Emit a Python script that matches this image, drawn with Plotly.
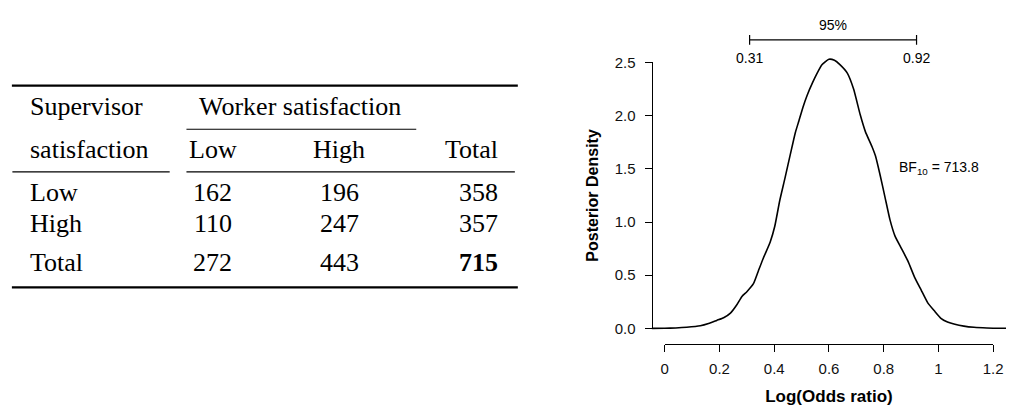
import plotly.graph_objects as go

# ---------------- data ----------------
row_labels = ["Low", "High"]
col_labels = ["Low", "High"]
counts = [[162, 196], [110, 247]]
row_totals = [358, 357]
col_totals = [272, 443]
grand_total = 715

logor_x = [-0.048, 0.0, 0.04, 0.08, 0.13, 0.16, 0.19, 0.215, 0.24, 0.264, 0.282, 0.30,
           0.324, 0.342, 0.36, 0.385, 0.402, 0.42, 0.439, 0.46, 0.477, 0.49, 0.505, 0.52,
           0.54, 0.555, 0.575, 0.60, 0.62, 0.64, 0.667, 0.69, 0.714, 0.733, 0.757, 0.77,
           0.787, 0.805, 0.823, 0.841, 0.865, 0.889, 0.913, 0.937, 0.961, 0.985, 1.009,
           1.033, 1.06, 1.093, 1.13, 1.177, 1.25]
density_y = [0.0, 0.001, 0.004, 0.01, 0.024, 0.045, 0.075, 0.10, 0.144, 0.225, 0.30, 0.345,
             0.42, 0.54, 0.66, 0.81, 0.96, 1.20, 1.41, 1.65, 1.84, 1.95, 2.08, 2.19,
             2.31, 2.39, 2.48, 2.53, 2.52, 2.48, 2.40, 2.25, 2.01, 1.85, 1.71, 1.62,
             1.44, 1.23, 1.02, 0.87, 0.75, 0.63, 0.48, 0.36, 0.24, 0.165, 0.095,
             0.06, 0.038, 0.021, 0.01, 0.004, 0.001]
ci_level = 0.95
ci_lower = 0.31
ci_upper = 0.92
bf10 = 713.8
x_ticks = [0, 0.2, 0.4, 0.6, 0.8, 1.0, 1.2]
x_ticktext = ["0", "0.2", "0.4", "0.6", "0.8", "1", "1.2"]
y_ticks = [0, 0.5, 1.0, 1.5, 2.0, 2.5]

# ---------------- layout geometry (pixels) ----------------
W, H = 1016, 407
def fx(px): return px / W
def fy(py): return 1 - py / H

X0PX, KX = 670.0, 277.5      # x=0 pixel, px per unit
Y0PX, KY = 333.3, 111.0      # y=0 pixel, px per unit
YAX_PX = 656.7               # y-axis line
XAX_PY = 350.0               # x-axis line

def px2x(px): return (px - X0PX) / KX
def py2y(py): return (Y0PX - py) / KY

SERIF = "Liberation Serif"
SANS = "Liberation Sans, Arial, sans-serif"
TF = 26

fig = go.Figure()

# posterior density curve
fig.add_trace(go.Scatter(x=logor_x, y=density_y, mode="lines",
                         line=dict(color="black", width=1.6, shape="spline", smoothing=0.5),
                         xaxis="x", yaxis="y", hoverinfo="skip"))
# credible interval bar
ci_y = py2y(32.3)
fig.add_trace(go.Scatter(x=[ci_lower, ci_upper], y=[ci_y, ci_y], mode="lines+markers",
                         line=dict(color="black", width=1.2),
                         marker=dict(symbol="line-ns", size=7,
                                     line=dict(color="black", width=1.2)),
                         xaxis="x", yaxis="y", hoverinfo="skip"))
# placeholder so the visible (R-style, detached) axes are drawn
fig.add_trace(go.Scatter(x=[None], y=[None], xaxis="x2", yaxis="y2", hoverinfo="skip"))

annotations = []
def ann(text, px, py, xanchor, size=TF, font=SERIF, xref="paper", yref="paper", x=None, y=None):
    annotations.append(dict(text=text, x=fx(px) if x is None else x,
                            y=fy(py) if y is None else y,
                            xref=xref, yref=yref, xanchor=xanchor, yanchor="middle",
                            showarrow=False, font=dict(family=font, size=size, color="black")))

# ---- contingency table ----
shift = 0.3375 * TF  # baseline -> text middle
COL_L, COL_1, COL_2, COL_T = 24.0, 211.5, 340.0, 503.0
ann("Supervisor", COL_L, 110.5 - shift, "left")
ann("Worker satisfaction", 300.0, 110.5 - shift, "center")
ann("satisfaction", COL_L, 155.5 - shift, "left")
ann(col_labels[0], COL_1, 155.5 - shift, "center")
ann(col_labels[1], COL_2, 155.5 - shift, "center")
ann("Total", COL_T, 155.5 - shift, "right")
row_base = [200.7, 233.0]
for i, lab in enumerate(row_labels):
    b = row_base[i] - shift
    ann(lab, COL_L, b, "left")
    ann(str(counts[i][0]), COL_1, b, "center")
    ann(str(counts[i][1]), COL_2, b, "center")
    ann(str(row_totals[i]), COL_T, b, "right")
b = 273.3 - shift
ann("Total", COL_L, b, "left")
ann(str(col_totals[0]), COL_1, b, "center")
ann(str(col_totals[1]), COL_2, b, "center")
ann("<b>%d</b>" % grand_total, COL_T, b, "right")

shapes = []
def rule(x0, x1, py, w):
    shapes.append(dict(type="line", xref="paper", yref="paper",
                       x0=fx(x0), x1=fx(x1), y0=fy(py), y1=fy(py),
                       line=dict(color="black", width=w)))
rule(8, 521, 80, 2.4)
rule(185, 418, 125.5, 1.1)
rule(8.5, 168, 170, 1.1)
rule(185, 518, 170, 1.1)
rule(8, 521, 290.5, 2.4)

# ---- chart annotations ----
ann("%d%%" % round(ci_level * 100), 0, 17, "center", size=14, font=SANS,
    xref="x", x=(ci_lower + ci_upper) / 2)
ann("%.2f" % ci_lower, 0, 51, "center", size=14, font=SANS, xref="x", x=ci_lower)
ann("%.2f" % ci_upper, 0, 51, "center", size=14, font=SANS, xref="x", x=ci_upper)
ann("BF<sub>10</sub> = %.1f" % bf10, 905.7, 165.7, "left", size=14, font=SANS)

axis_common = dict(showgrid=False, zeroline=False, showline=True, linecolor="black",
                   linewidth=1, ticks="outside", ticklen=7, tickcolor="black", tickwidth=1,
                   tickfont=dict(family=SANS, size=15, color="#111"))

fig.update_layout(
    width=W, height=H, margin=dict(l=0, r=0, t=0, b=0),
    paper_bgcolor="white", plot_bgcolor="rgba(0,0,0,0)", showlegend=False,
    xaxis=dict(domain=[fx(YAX_PX), 1], range=[px2x(YAX_PX), px2x(W)], visible=False,
               anchor="y"),
    yaxis=dict(domain=[0, 1], range=[py2y(H), py2y(0)], visible=False, anchor="x"),
    xaxis2=dict(domain=[fx(X0PX + x_ticks[0] * KX), fx(X0PX + x_ticks[-1] * KX)],
                range=[x_ticks[0], x_ticks[-1]], anchor="free", position=fy(XAX_PY),
                tickvals=x_ticks, ticktext=x_ticktext, ticklabelstandoff=4,
                title=dict(text="<b>Log(Odds ratio)</b>", standoff=13,
                           font=dict(family=SANS, size=17, color="black")),
                **axis_common),
    yaxis2=dict(domain=[fy(Y0PX - y_ticks[0] * KY), fy(Y0PX - y_ticks[-1] * KY)],
                range=[y_ticks[0], y_ticks[-1]], anchor="free", position=fx(YAX_PX),
                tickvals=y_ticks, tickformat=".1f", ticklabelstandoff=6,
                title=dict(text="<b>Posterior Density</b>", standoff=11,
                           font=dict(family=SANS, size=16, color="black")),
                **axis_common),
    annotations=annotations, shapes=shapes,
)

fig.write_html("out.html",
               post_script="document.body.style.margin='0';document.body.style.overflow='hidden';")
